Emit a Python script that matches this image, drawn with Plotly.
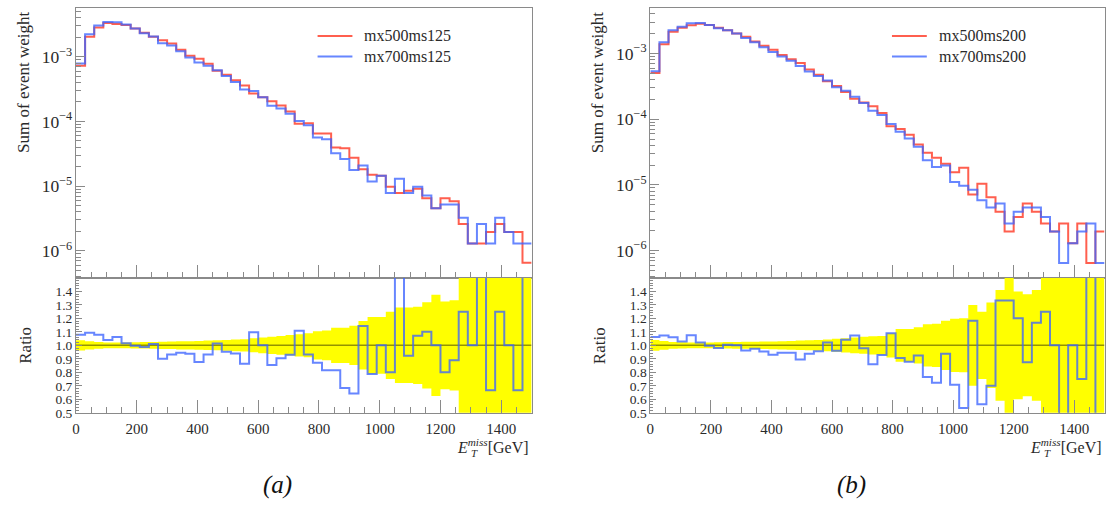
import plotly.graph_objects as go

# ---------------- data ----------------
BIN_W = 30
X_MAX = 1500
bin_lo = list(range(0, X_MAX, BIN_W))          # 50 bins, 0..1500 GeV

x_ticks = [0, 200, 400, 600, 800, 1000, 1200, 1400]
ratio_ticks = [0.5, 0.6, 0.7, 0.8, 0.9, 1.0, 1.1, 1.2, 1.3, 1.4]

names_a = ["mx500ms125", "mx700ms125"]
names_b = ["mx500ms200", "mx700ms200"]

red_a = [7.3e-4, 2.04e-3, 2.83e-3, 3.34e-3, 3.23e-3, 3.10e-3, 2.74e-3, 2.35e-3, 2.04e-3, 1.80e-3,
         1.60e-3, 1.29e-3, 1.04e-3, 9.3e-4, 7.8e-4, 6.1e-4, 5.3e-4, 4.35e-4, 3.6e-4, 2.7e-4,
         2.37e-4, 2.05e-4, 1.76e-4, 1.42e-4, 9.2e-5, 9.4e-5, 6.5e-5, 6.5e-5, 3.95e-5, 3.85e-5,
         2.75e-5, 1.82e-5, 1.5e-5, 1.45e-5, 9.75e-6, 7.8e-6, 8.45e-6, 9.1e-6, 6.5e-6, 4.55e-6,
         6.5e-6, 5.85e-6, 2.6e-6, 1.3e-6, 1.3e-6, 1.95e-6, 2.6e-6, 1.95e-6, 1.95e-6, 6.5e-7]
blue_a = [7.87e-4, 2.23e-3, 3.05e-3, 3.47e-3, 3.43e-3, 3.15e-3, 2.73e-3, 2.32e-3, 2.06e-3, 1.62e-3,
          1.49e-3, 1.22e-3, 9.75e-4, 8.16e-4, 7.27e-4, 6.18e-4, 5.05e-4, 4.09e-4, 3.11e-4, 2.96e-4,
          2.37e-4, 1.75e-4, 1.59e-4, 1.32e-4, 1.02e-4, 8.76e-5, 5.66e-5, 5.3e-5, 3.22e-5, 2.63e-5,
          1.77e-5, 2.08e-5, 1.18e-5, 1.45e-5, 7.8e-6, 1.3e-5, 7.8e-6, 9.75e-6, 7.15e-6, 4.55e-6,
          5.2e-6, 5.2e-6, 3.25e-6, 1.3e-6, 2.6e-6, 1.3e-6, 3.25e-6, 1.95e-6, 1.3e-6, 1.3e-6]
band_a = [0.038, 0.030, 0.025, 0.022, 0.022, 0.022, 0.023, 0.024, 0.025, 0.027,
          0.028, 0.030, 0.031, 0.033, 0.035, 0.037, 0.040, 0.043, 0.046, 0.052,
          0.058, 0.064, 0.070, 0.076, 0.082, 0.089, 0.105, 0.110, 0.130, 0.130,
          0.146, 0.180, 0.210, 0.210, 0.250, 0.280, 0.280, 0.287, 0.320, 0.375,
          0.325, 0.335, 0.6, 0.6, 0.6, 0.6, 0.6, 0.6, 0.6, 0.6]

red_b = [5.07e-4, 1.38e-3, 2.14e-3, 2.48e-3, 2.69e-3, 2.85e-3, 2.72e-3, 2.48e-3, 2.26e-3, 2.02e-3,
         1.80e-3, 1.53e-3, 1.31e-3, 1.14e-3, 9.5e-4, 8.2e-4, 7.2e-4, 5.7e-4, 4.75e-4, 3.8e-4,
         3.2e-4, 2.6e-4, 2.05e-4, 1.8e-4, 1.57e-4, 1.25e-4, 7.8e-5, 7.1e-5, 5.8e-5, 4.12e-5,
         3.1e-5, 2.6e-5, 2.1e-5, 1.56e-5, 1.82e-5, 7.15e-6, 1.04e-5, 6.5e-6, 3.9e-6, 1.95e-6,
         3.25e-6, 5.2e-6, 3.9e-6, 2.6e-6, 1.95e-6, 2.6e-6, 1.3e-6, 2.6e-6, 6.5e-7, 1.95e-6]
blue_b = [5.38e-4, 1.48e-3, 2.27e-3, 2.55e-3, 2.89e-3, 2.91e-3, 2.71e-3, 2.43e-3, 2.27e-3, 2.02e-3,
          1.73e-3, 1.49e-3, 1.25e-3, 1.06e-3, 8.98e-4, 7.75e-4, 6.44e-4, 5.34e-4, 4.54e-4, 3.88e-4,
          3.07e-4, 2.71e-4, 2.2e-4, 1.76e-4, 1.35e-4, 1.16e-4, 8.5e-5, 6.44e-5, 5.09e-5, 3.81e-5,
          2.37e-5, 1.88e-5, 1.97e-5, 1.105e-5, 9.75e-6, 8.45e-6, 5.85e-6, 4.55e-6, 5.2e-6, 2.6e-6,
          3.9e-6, 4.55e-6, 4.55e-6, 3.25e-6, 1.95e-6, 6.5e-7, 1.3e-6, 1.95e-6, 2.6e-6, 6.5e-7]
band_b = [0.040, 0.032, 0.025, 0.023, 0.022, 0.022, 0.022, 0.023, 0.024, 0.025,
          0.026, 0.027, 0.028, 0.029, 0.030, 0.032, 0.035, 0.037, 0.040, 0.044,
          0.048, 0.053, 0.058, 0.063, 0.068, 0.070, 0.090, 0.122, 0.122, 0.134,
          0.156, 0.161, 0.183, 0.198, 0.200, 0.300, 0.250, 0.317, 0.410, 0.6,
          0.400, 0.378, 0.410, 0.6, 0.6, 0.6, 0.6, 0.6, 0.6, 0.6]

# ---------------- style ----------------
W, H = 1106, 514
FONT = "Liberation Serif"
RED = "rgba(255,60,40,0.82)"
BLUE = "rgba(60,100,255,0.78)"
FRAME = "#8a8a8a"
TXT = "#2a2a2a"


def px(xp):
    return xp / W


def py(yp):
    return 1 - yp / H


def step(vals):
    return bin_lo + [X_MAX], list(vals) + [vals[-1]]


fig = go.Figure()

panels = [
    dict(red=red_a, blue=blue_a, band=band_a, names=names_a, xs="x", ys="y", xr="x2", yr="y2",
         dom=[px(72.3), px(530)], yrange=[-6.42, -2.243], leg_x=315, cap="(a)"),
    dict(red=red_b, blue=blue_b, band=band_b, names=names_b, xs="x3", ys="y3", xr="x4", yr="y4",
         dom=[px(649.3), px(1105.5)], yrange=[-6.415, -2.305], leg_x=892, cap="(b)"),
]

annotations = []
shapes = []
layout_axes = {}

for i, p in enumerate(panels):
    # --- top histograms
    for vals, col in ((p["red"], RED), (p["blue"], BLUE)):
        xx, yy = step(vals)
        fig.add_trace(go.Scatter(x=xx, y=yy, mode="lines", line=dict(shape="hv", color=col, width=2),
                                 xaxis=p["xs"], yaxis=p["ys"], showlegend=False, hoverinfo="skip"))
    # --- ratio panel: uncertainty band
    lo = [1 - b for b in p["band"]]
    hi = [1 + b for b in p["band"]]
    xx, ylo = step(lo)
    _, yhi = step(hi)
    fig.add_trace(go.Scatter(x=xx, y=ylo, mode="lines", line=dict(shape="hv", width=0, color="rgba(0,0,0,0)"),
                             xaxis=p["xr"], yaxis=p["yr"], showlegend=False, hoverinfo="skip"))
    fig.add_trace(go.Scatter(x=xx, y=yhi, mode="lines", line=dict(shape="hv", width=0, color="rgba(0,0,0,0)"),
                             fill="tonexty", fillcolor="#ffff00",
                             xaxis=p["xr"], yaxis=p["yr"], showlegend=False, hoverinfo="skip"))
    # reference line at ratio = 1
    fig.add_trace(go.Scatter(x=[0, X_MAX], y=[1, 1], mode="lines",
                             line=dict(color="rgba(60,60,0,0.55)", width=1.5),
                             xaxis=p["xr"], yaxis=p["yr"], showlegend=False, hoverinfo="skip"))
    ratio = [b / r for b, r in zip(p["blue"], p["red"])]
    xx, yy = step(ratio)
    fig.add_trace(go.Scatter(x=xx, y=yy, mode="lines", line=dict(shape="hv", color=BLUE, width=2),
                             xaxis=p["xr"], yaxis=p["yr"], showlegend=False, hoverinfo="skip"))

    k = 2 * i
    xs_name = "xaxis" if k == 0 else f"xaxis{k + 1}"
    ys_name = "yaxis" if k == 0 else f"yaxis{k + 1}"
    xr_name = f"xaxis{k + 2}"
    yr_name = f"yaxis{k + 2}"
    common_x = dict(range=[0, X_MAX], tick0=0, dtick=200, ticks="inside", ticklen=13, tickcolor=FRAME,
                    showline=True, linecolor=FRAME, linewidth=1, mirror=True, showgrid=False, zeroline=False,
                    minor=dict(ticks="inside", ticklen=6, dtick=50, tickcolor=FRAME, showgrid=False),
                    domain=p["dom"])
    layout_axes[xs_name] = dict(common_x, anchor=p["ys"], showticklabels=False)
    layout_axes[xr_name] = dict(common_x, anchor=p["yr"], tickfont=dict(family=FONT, size=15, color=TXT),
                                tickvals=x_ticks, ticklabelstandoff=2)
    layout_axes[ys_name] = dict(type="log", range=p["yrange"], dtick=1, exponentformat="power",
                                ticks="inside", ticklen=9, tickcolor=FRAME, showline=True, linecolor=FRAME,
                                linewidth=1, mirror=True, showgrid=False, zeroline=False,
                                minor=dict(ticks="inside", ticklen=5, dtick="D1", tickcolor=FRAME, showgrid=False),
                                tickfont=dict(family=FONT, size=14, color=TXT), anchor=p["xs"],
                                domain=[py(282.3), py(8)])
    layout_axes[yr_name] = dict(range=[0.5, 1.5], tickvals=ratio_ticks, tickformat=".1f",
                                ticks="inside", ticklen=6, tickcolor=FRAME, showline=True, linecolor=FRAME,
                                linewidth=1, mirror=True, showgrid=False, zeroline=False,
                                minor=dict(ticks="inside", ticklen=3, dtick=0.02, tickcolor=FRAME, showgrid=False),
                                tickfont=dict(family=FONT, size=13.5, color=TXT), anchor=p["xr"],
                                domain=[py(419.3), py(282.3)])

    # --- legend (lines + labels)
    for j, (nm, col, yy_) in enumerate(((p["names"][0], RED, 36.5), (p["names"][1], BLUE, 57.5))):
        shapes.append(dict(type="line", xref="paper", yref="paper", x0=px(p["leg_x"]), x1=px(p["leg_x"] + 35),
                           y0=py(yy_), y1=py(yy_), line=dict(color=col, width=2)))
        annotations.append(dict(xref="paper", yref="paper", x=px(p["leg_x"] + 45), y=py(yy_), text=nm,
                                showarrow=False, xanchor="left", yanchor="middle",
                                font=dict(family=FONT, size=16, color=TXT)))

    x0 = p["dom"][0] * W
    # y titles
    annotations.append(dict(xref="paper", yref="paper", x=px(x0 - 53), y=py(84), text="Sum of event weight",
                            textangle=-90, showarrow=False, xanchor="center", yanchor="middle",
                            font=dict(family=FONT, size=17, color=TXT)))
    annotations.append(dict(xref="paper", yref="paper", x=px(x0 - 51), y=py(351), text="Ratio",
                            textangle=-90, showarrow=False, xanchor="center", yanchor="middle",
                            font=dict(family=FONT, size=17, color=TXT)))
    # x title
    x1 = p["dom"][1] * W
    annotations.append(dict(xref="paper", yref="paper", x=px(x1 - 1), y=py(453),
                            text="<i>E</i><sup><i>miss</i></sup>[GeV]", showarrow=False,
                            xanchor="right", yanchor="middle", font=dict(family=FONT, size=16, color=TXT)))
    annotations.append(dict(xref="paper", yref="paper", x=px(x1 - 63), y=py(460),
                            text="<i>T</i>", showarrow=False,
                            xanchor="left", yanchor="middle", font=dict(family=FONT, size=11, color=TXT)))
    # caption
    annotations.append(dict(xref="paper", yref="paper", x=px((p["dom"][0] + p["dom"][1]) / 2 * W - 26), y=py(493),
                            text="<i>" + p["cap"] + "</i>", showarrow=False, xanchor="center", yanchor="middle",
                            font=dict(family=FONT, size=25, color="#111")))

fig.update_layout(width=W, height=H, margin=dict(l=0, r=0, t=0, b=0), autosize=False,
                  paper_bgcolor="white", plot_bgcolor="white", showlegend=False,
                  annotations=annotations, shapes=shapes, **layout_axes)

fig.write_html("out.html")
